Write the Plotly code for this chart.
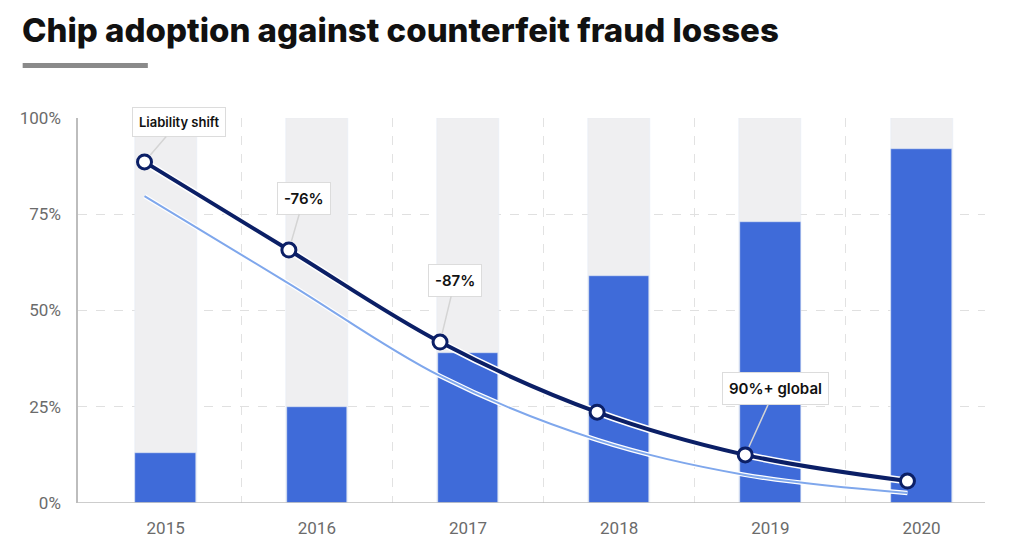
#!/usr/bin/env python3
# -*- coding: utf-8 -*-
import plotly.graph_objects as go

# data
years = [2015, 2016, 2017, 2018, 2019, 2020]
chip_adoption = [13, 25, 39, 59, 73, 92]          # bars, % of cards / terminals
fraud_losses = [88.6, 65.7, 41.8, 23.6, 12.5, 5.7]  # indexed counterfeit losses
fraud_trend = [79.7, 57.0, 33.0, 16.4, 7.3, 2.6]    # lighter companion line
line_shift = [-0.14, -0.185, -0.185, -0.146, -0.166, -0.093]
callout_text = ["Liability shift", "-76%", "-87%", None, "90%+ global", None]
y_ticks = [0, 25, 50, 75, 100]
y_tick_labels = ["0%", "25%", "50%", "75%", "100%"]

NAVY = "#0b1f66"
BLUE = "#3f6bd9"
LIGHT = "#7fa7ec"
TRACK = "#efeff1"

line_x = [y + s for y, s in zip(years, line_shift)]

fig = go.Figure()

# grey 100% tracks behind the bars
fig.add_trace(go.Bar(x=years, y=[100] * len(years), marker_color=TRACK,
                     width=0.41, hoverinfo="skip", showlegend=False))
fig.add_trace(go.Bar(x=years, y=chip_adoption, marker_color=BLUE,
                     width=0.4, showlegend=False))

# light trend line with a white halo
fig.add_trace(go.Scatter(x=line_x, y=fraud_trend, mode="lines",
                         line=dict(color="white", width=4.5, shape="spline"),
                         hoverinfo="skip", showlegend=False))
fig.add_trace(go.Scatter(x=line_x, y=fraud_trend, mode="lines",
                         line=dict(color=LIGHT, width=2, shape="spline"),
                         showlegend=False))

# main fraud loss line
fig.add_trace(go.Scatter(x=line_x, y=fraud_losses, mode="lines",
                         line=dict(color="white", width=7, shape="spline"),
                         hoverinfo="skip", showlegend=False))
fig.add_trace(go.Scatter(x=line_x, y=fraud_losses, mode="lines+markers",
                         line=dict(color=NAVY, width=4, shape="spline"),
                         marker=dict(size=14, color="white",
                                     line=dict(color=NAVY, width=3)),
                         showlegend=False))

fig.update_layout(barmode="overlay")

# callout offsets (pixels) so the boxes sit where the reference has them
offsets = [(34, -40), (15, -52), (15, -62), None, (30, -66), None]
for x, y, txt, off in zip(line_x, fraud_losses, callout_text, offsets):
    if txt is None:
        continue
    small = txt == "Liability shift"
    fig.add_annotation(x=x, y=y, text=txt,
                       showarrow=True, arrowhead=0, arrowwidth=1.5,
                       arrowcolor="#d4d4d4", ax=off[0], ay=off[1], standoff=9,
                       font=dict(family="Inter", size=13 if small else 15,
                                 color="#111111", weight=600),
                       bgcolor="white", bordercolor="#dcdcdc", borderwidth=1,
                       borderpad=6)

# title and accent bar
fig.add_annotation(text="Chip adoption against counterfeit fraud losses",
                   xref="paper", yref="paper", x=-0.064, y=1.285,
                   xanchor="left", yanchor="top", showarrow=False,
                   font=dict(family="Inter", size=33, color="#111111", weight=800))
fig.add_shape(type="rect", xref="paper", yref="paper",
              x0=-0.061, x1=0.077, y0=1.130, y1=1.143,
              fillcolor="#8a8a8a", line_width=0)

fig.update_xaxes(range=[2014.42, 2020.42], tickvals=years,
                 ticktext=[str(y) for y in years],
                 tickfont=dict(family="Roboto", size=17, color="#6b6b6b"),
                 showgrid=False, zeroline=False, ticks="", ticklabelstandoff=13,
                 minor=dict(tickvals=[y + 0.5 for y in years[:-1]], showgrid=True,
                            gridcolor="#e2e2e2", griddash="dash", gridwidth=1),
                 showline=False)
fig.update_yaxes(range=[0, 100], tickvals=y_ticks, ticktext=y_tick_labels,
                 tickfont=dict(family="Roboto", size=17, color="#6b6b6b"),
                 showgrid=True, gridcolor="#e0e0e0", griddash="dash",
                 zeroline=False, showline=True, linecolor="#bdbdbd", linewidth=1.5,
                 ticks="", ticklabelstandoff=12)

# solid baseline
fig.add_shape(type="line", xref="paper", yref="y", x0=0, x1=1, y0=0, y1=0,
              line=dict(color="#bdbdbd", width=1.5))

# page body has an 8px margin, so the figure is a little smaller than the window
fig.update_layout(width=1016, height=550,
                  margin=dict(l=70, r=39, t=110, b=55),
                  plot_bgcolor="white", paper_bgcolor="white",
                  bargap=0, font=dict(family="Inter"))

fig.write_html("out.html")
